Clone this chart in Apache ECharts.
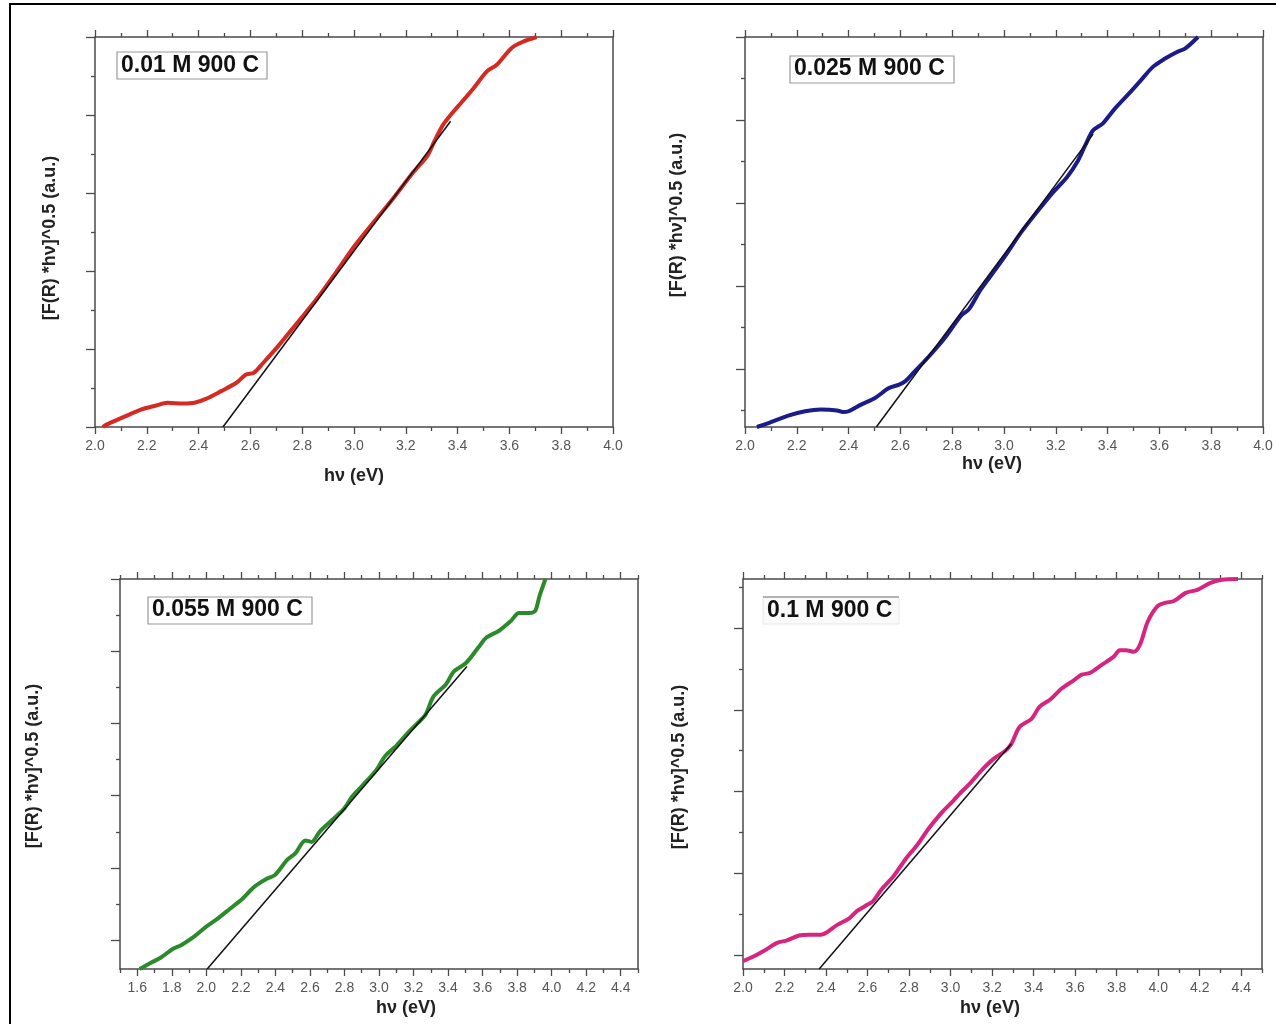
<!DOCTYPE html>
<html>
<head>
<meta charset="utf-8">
<script src="https://cdn.jsdelivr.net/npm/echarts@6/dist/echarts.min.js"></script>
<style>
  html, body { margin: 0; padding: 0; background: #fff; }
  #chart { width: 1276px; height: 1024px; }
</style>
</head>
<body>
<div id="chart"></div>
<script>
// Kubelka–Munk plots, [F(R)*hν]^0.5 against photon energy, four precursor concentrations

const sampleLabels = ['0.01 M 900 C', '0.025 M 900 C', '0.055 M 900 C', '0.1 M 900 C'];
const xTitle = 'h\u03bd (eV)';
const yTitle = '[F(R) *h\u03bd]^0.5 (a.u.)';

// 0.01 M
const energy1 = [2.03, 2.044, 2.103, 2.177, 2.236, 2.28, 2.34, 2.384, 2.428, 2.487, 2.546, 2.583, 2.613, 2.65, 2.708, 2.782, 2.856, 2.93, 3.004, 3.077, 3.151, 3.225, 3.284, 3.31, 3.343, 3.373, 3.417, 3.461, 3.513, 3.55, 3.609, 3.653, 3.705];
const km1 = [0, 0.03, 0.116, 0.223, 0.275, 0.31, 0.30, 0.31, 0.36, 0.46, 0.567, 0.674, 0.695, 0.824, 1.04, 1.34, 1.64, 1.98, 2.33, 2.63, 2.93, 3.25, 3.48, 3.66, 3.87, 4.0, 4.17, 4.34, 4.56, 4.64, 4.86, 4.94, 5.0];
const fit1 = [[2.494, 0], [3.373, 3.92]];

// 0.025 M
const energy2 = [2.046, 2.093, 2.17, 2.232, 2.293, 2.355, 2.378, 2.40, 2.448, 2.502, 2.556, 2.595, 2.618, 2.649, 2.71, 2.772, 2.834, 2.865, 2.911, 2.958, 3.004, 3.066, 3.127, 3.19, 3.243, 3.282, 3.313, 3.344, 3.382, 3.429, 3.483, 3.529, 3.575, 3.622, 3.668, 3.699, 3.749];
const km2 = [0.30, 0.35, 0.44, 0.49, 0.51, 0.50, 0.48, 0.49, 0.57, 0.65, 0.77, 0.81, 0.85, 0.95, 1.15, 1.375, 1.64, 1.72, 1.96, 2.16, 2.36, 2.645, 2.89, 3.13, 3.31, 3.49, 3.69, 3.875, 3.96, 4.14, 4.32, 4.48, 4.64, 4.74, 4.82, 4.86, 5.0];
const fit2 = [[2.507, 0.30], [3.344, 3.83]];

// 0.055 M
const energy3 = [1.614, 1.666, 1.737, 1.807, 1.854, 1.925, 1.996, 2.067, 2.137, 2.208, 2.279, 2.35, 2.397, 2.468, 2.515, 2.574, 2.609, 2.656, 2.727, 2.798, 2.845, 2.916, 2.986, 3.033, 3.104, 3.175, 3.222, 3.269, 3.316, 3.387, 3.434, 3.505, 3.575, 3.622, 3.693, 3.764, 3.811, 3.87, 3.905, 3.929, 3.964];
const km3 = [0.60, 0.67, 0.76, 0.88, 0.93, 1.04, 1.18, 1.30, 1.435, 1.57, 1.74, 1.85, 1.90, 2.11, 2.20, 2.38, 2.36, 2.50, 2.66, 2.82, 2.99, 3.17, 3.36, 3.54, 3.70, 3.89, 4.00, 4.12, 4.375, 4.54, 4.72, 4.84, 5.05, 5.19, 5.28, 5.42, 5.53, 5.53, 5.56, 5.76, 6.0];
const fit3 = [[2.005, 0.60], [3.509, 4.79]];

// 0.1 M
const energy4 = [2.0, 2.048, 2.106, 2.164, 2.212, 2.27, 2.319, 2.376, 2.405, 2.454, 2.512, 2.55, 2.598, 2.627, 2.666, 2.724, 2.782, 2.84, 2.898, 2.956, 3.014, 3.042, 3.09, 3.149, 3.207, 3.264, 3.293, 3.332, 3.39, 3.429, 3.477, 3.535, 3.593, 3.631, 3.67, 3.728, 3.786, 3.815, 3.844, 3.882, 3.911, 3.95, 3.998, 4.037, 4.075, 4.133, 4.191, 4.249, 4.307, 4.384];
const km4 = [0.926, 0.98, 1.06, 1.15, 1.18, 1.24, 1.25, 1.25, 1.28, 1.37, 1.45, 1.54, 1.615, 1.66, 1.80, 1.96, 2.17, 2.35, 2.56, 2.74, 2.89, 2.97, 3.09, 3.26, 3.40, 3.50, 3.585, 3.79, 3.89, 4.04, 4.12, 4.26, 4.36, 4.43, 4.45, 4.55, 4.65, 4.73, 4.73, 4.71, 4.79, 5.08, 5.27, 5.31, 5.33, 5.43, 5.47, 5.55, 5.59, 5.6];
const fit4 = [[2.367, 0.83], [3.293, 3.585]];

// Tick labels on the energy axes and major ticks on the (unlabelled) intensity axes
const xTicks1 = [2.0, 2.2, 2.4, 2.6, 2.8, 3.0, 3.2, 3.4, 3.6, 3.8, 4.0];
const xTicks2 = [2.0, 2.2, 2.4, 2.6, 2.8, 3.0, 3.2, 3.4, 3.6, 3.8, 4.0];
const xTicks3 = [1.6, 1.8, 2.0, 2.2, 2.4, 2.6, 2.8, 3.0, 3.2, 3.4, 3.6, 3.8, 4.0, 4.2, 4.4];
const xTicks4 = [2.0, 2.2, 2.4, 2.6, 2.8, 3.0, 3.2, 3.4, 3.6, 3.8, 4.0, 4.2, 4.4];
const yTicks1 = [0, 1, 2, 3, 4, 5];
const yTicks2 = [1, 2, 3, 4, 5];
const yTicks3 = [1, 2, 3, 4, 5, 6];
const yTicks4 = [1, 2, 3, 4, 5];

// Layout and styling for each panel
const panels = [
  { grid: { left: 95, top: 37, width: 518, height: 390 }, xRange: [2.0, 4.0], yRange: [0, 5],
    xTicks: xTicks1, yTicks: yTicks1, energy: energy1, values: km1, fit: fit1, color: '#d42a22',
    label: sampleLabels[0], box: [117, 52, 150, 27], labelPos: [121, 66], xTitlePos: [354, 476], yTitlePos: [50, 238], boxStyle: 'full' },
  { grid: { left: 745, top: 37, width: 518, height: 390 }, xRange: [2.0, 4.0], yRange: [0.3, 5],
    xTicks: xTicks2, yTicks: yTicks2, energy: energy2, values: km2, fit: fit2, color: '#1b1b8a',
    label: sampleLabels[1], box: [790, 56, 164, 27], labelPos: [794, 69], xTitlePos: [992, 464], yTitlePos: [677, 215], boxStyle: 'full' },
  { grid: { left: 120, top: 579, width: 518, height: 390 }, xRange: [1.5, 4.5], yRange: [0.6, 6],
    xTicks: xTicks3, yTicks: yTicks3, energy: energy3, values: km3, fit: fit3, color: '#2c8a2c',
    label: sampleLabels[2], box: [148, 597, 164, 27], labelPos: [152, 610], xTitlePos: [406, 1008], yTitlePos: [33, 766], boxStyle: 'full' },
  { grid: { left: 743, top: 579, width: 519, height: 390 }, xRange: [2.0, 4.5], yRange: [0.83, 5.6],
    xTicks: xTicks4, yTicks: yTicks4, energy: energy4, values: km4, fit: fit4, color: '#d5257f',
    label: sampleLabels[3], box: [763, 597, 136, 27], labelPos: [767, 611], xTitlePos: [990, 1008], yTitlePos: [679, 767], boxStyle: 'top' }
];

const FRAME = '#4a4a4a';
const FONT = '"Liberation Sans", Arial, Helvetica, sans-serif';

function tenthMinors(range) {
  const out = [];
  for (let k = Math.round(range[0] * 10); k <= Math.round(range[1] * 10); k++) {
    if (k % 2 !== 0) out.push(k / 10);
  }
  return out;
}
function halfMinors(range) {
  const out = [];
  for (let k = Math.ceil(range[0] - 0.5); k <= Math.floor(range[1]); k++) {
    const v = k + 0.5;
    if (v >= range[0] && v <= range[1]) out.push(v);
  }
  return out;
}

const grids = [], xAxes = [], yAxes = [], series = [], graphics = [];

panels.forEach((p, i) => {
  grids.push(Object.assign({ containLabel: false, outerBoundsMode: 'none' }, p.grid));
  const xBase = { type: 'value', gridIndex: i, min: p.xRange[0], max: p.xRange[1], splitLine: { show: false } };
  const yBase = { type: 'value', gridIndex: i, min: p.yRange[0], max: p.yRange[1], splitLine: { show: false } };
  const line = { show: true, onZero: false, lineStyle: { color: FRAME, width: 1.5 } };
  const noLine = { show: false, onZero: false };
  const tickStyle = { color: FRAME, width: 1.3 };
  const xMinor = tenthMinors(p.xRange);
  const yMinor = halfMinors(p.yRange);

  const xMain = xAxes.length;
  // bottom: major ticks + labels
  xAxes.push(Object.assign({}, xBase, {
    position: 'bottom', axisLine: line,
    axisTick: { show: true, inside: false, length: 7, customValues: p.xTicks, lineStyle: tickStyle },
    axisLabel: { show: true, customValues: p.xTicks, margin: 12, color: '#555', fontSize: 14, fontFamily: FONT,
      formatter: v => Number(v).toFixed(1) }
  }));
  // bottom: minor ticks
  xAxes.push(Object.assign({}, xBase, {
    position: 'bottom', axisLine: noLine,
    axisTick: { show: true, inside: false, length: 4, customValues: xMinor, lineStyle: tickStyle },
    axisLabel: { show: false }
  }));
  // top: major + minor ticks
  xAxes.push(Object.assign({}, xBase, {
    position: 'top', axisLine: line,
    axisTick: { show: true, inside: false, length: 7, customValues: p.xTicks, lineStyle: tickStyle },
    axisLabel: { show: false }
  }));
  xAxes.push(Object.assign({}, xBase, {
    position: 'top', axisLine: noLine,
    axisTick: { show: true, inside: false, length: 4, customValues: xMinor, lineStyle: tickStyle },
    axisLabel: { show: false }
  }));

  const yMain = yAxes.length;
  yAxes.push(Object.assign({}, yBase, {
    position: 'left', axisLine: line,
    axisTick: { show: true, inside: false, length: 9, customValues: p.yTicks, lineStyle: tickStyle },
    axisLabel: { show: false }
  }));
  yAxes.push(Object.assign({}, yBase, {
    position: 'left', axisLine: noLine,
    axisTick: { show: true, inside: false, length: 4, customValues: yMinor, lineStyle: tickStyle },
    axisLabel: { show: false }
  }));
  yAxes.push(Object.assign({}, yBase, {
    position: 'right', axisLine: line, axisTick: { show: false }, axisLabel: { show: false }
  }));

  series.push({
    type: 'line', name: p.label, xAxisIndex: xMain, yAxisIndex: yMain,
    data: p.energy.map((e, j) => [e, p.values[j]]),
    showSymbol: false, smooth: 0.3, clip: true,
    lineStyle: { color: p.color, width: 4 }, z: 2
  });
  series.push({
    type: 'line', name: p.label + ' fit', xAxisIndex: xMain, yAxisIndex: yMain,
    data: p.fit, showSymbol: false, clip: true,
    lineStyle: { color: '#111', width: 1.5 }, z: 3
  });

  // sample label box
  const [bx, by, bw, bh] = p.box;
  if (p.boxStyle === 'full') {
    graphics.push({ type: 'rect', shape: { x: bx, y: by, width: bw, height: bh },
      style: { fill: '#fff', stroke: '#9a9a9a', lineWidth: 1.2 }, z: 10 });
  } else {
    graphics.push({ type: 'rect', shape: { x: bx, y: by, width: bw, height: bh },
      style: { fill: '#fafafa', stroke: '#e6e6e6', lineWidth: 1 }, z: 10 });
    graphics.push({ type: 'line', shape: { x1: bx, y1: by, x2: bx + bw, y2: by },
      style: { stroke: '#777', lineWidth: 1.2 }, z: 11 });
  }
  graphics.push({ type: 'text', x: p.labelPos[0], y: p.labelPos[1], z: 12,
    style: { text: p.label, font: 'bold 23px ' + FONT, fill: '#111',
      align: 'left', verticalAlign: 'middle', textAlign: 'left', textVerticalAlign: 'middle' } });

  // axis titles
  graphics.push({ type: 'text', x: p.xTitlePos[0], y: p.xTitlePos[1], z: 12,
    style: { text: xTitle, font: 'bold 18px ' + FONT, fill: '#222',
      align: 'center', verticalAlign: 'middle', textAlign: 'center', textVerticalAlign: 'middle' } });
  graphics.push({ type: 'text', x: p.yTitlePos[0], y: p.yTitlePos[1], rotation: Math.PI / 2, z: 12,
    style: { text: yTitle, font: 'bold 18px ' + FONT, fill: '#222',
      align: 'center', verticalAlign: 'middle', textAlign: 'center', textVerticalAlign: 'middle' } });
});

// outer frame
graphics.push({ type: 'rect', shape: { x: 10, y: 4, width: 1300, height: 1100 },
  style: { fill: 'none', stroke: '#000', lineWidth: 2 }, z: 20 });

const chart = echarts.init(document.getElementById('chart'), null, { renderer: 'canvas' });
chart.setOption({
  animation: false,
  backgroundColor: '#fff',
  grid: grids,
  xAxis: xAxes,
  yAxis: yAxes,
  series: series,
  graphic: { elements: graphics }
});
</script>
</body>
</html>
